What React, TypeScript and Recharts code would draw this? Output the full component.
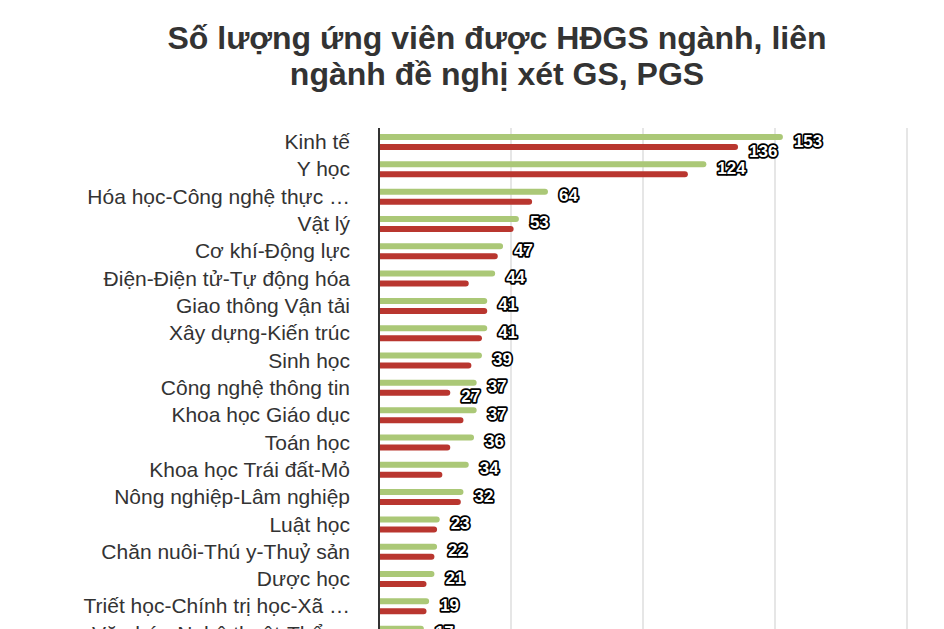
import React from "react";
import { BarChart, Bar, XAxis, YAxis, CartesianGrid } from "recharts";

const categories = [
  "Kinh tế",
  "Y học",
  "Hóa học-Công nghệ thực …",
  "Vật lý",
  "Cơ khí-Động lực",
  "Điện-Điện tử-Tự động hóa",
  "Giao thông Vận tải",
  "Xây dựng-Kiến trúc",
  "Sinh học",
  "Công nghệ thông tin",
  "Khoa học Giáo dục",
  "Toán học",
  "Khoa học Trái đất-Mỏ",
  "Nông nghiệp-Lâm nghiệp",
  "Luật học",
  "Chăn nuôi-Thú y-Thuỷ sản",
  "Dược học",
  "Triết học-Chính trị học-Xã …",
  "Văn hóa-Nghệ thuật-Thể …",
];

const greenValues = [153, 124, 64, 53, 47, 44, 41, 41, 39, 37, 37, 36, 34, 32, 23, 22, 21, 19, 17];
const redValues = [136, 117, 58, 51, 45, 34, 41, 39, 35, 27, 32, 27, 24, 31, 22, 21, 18, 18, 15];

// categories whose red-series value label is visible (others hidden by overlap)
const redLabelCategories = ["Kinh tế", "Công nghệ thông tin"];

const xTicks = [0, 50, 100, 150, 200];

const data = categories.map((name, i) => ({ name, a: greenValues[i], b: redValues[i] }));

const FONT = "'Liberation Sans', Arial, Helvetica, sans-serif";

const labelText = (x: number, y: number, value: any) => (
  <text
    x={x}
    y={y}
    dominantBaseline="central"
    textAnchor="start"
    fill="#ffffff"
    stroke="#000000"
    strokeWidth={3.5}
    strokeLinejoin="round"
    paintOrder="stroke"
    fontFamily={FONT}
    fontWeight="bold"
    fontSize={17}
  >
    {value}
  </text>
);

const greenLabel = (props: any) => {
  const { x, y, width, height, value } = props;
  return labelText(Number(x) + Number(width) + 11, Number(y) + Number(height) / 2 + 4, value);
};

const redLabel = (props: any) => {
  const { x, y, width, height, value, index } = props;
  if (!redLabelCategories.includes(categories[index])) return null;
  return labelText(Number(x) + Number(width) + 11, Number(y) + Number(height) / 2 + 4, value);
};

const EmptyTick = () => <g />;

export default function App() {
  return (
    <div style={{ position: "relative", width: 928, height: 680, fontFamily: FONT }}>
      <div
        style={{
          position: "absolute",
          left: 69,
          width: 840,
          top: 12,
          textAlign: "center",
          fontSize: 32,
          fontWeight: "bold",
          lineHeight: "36px",
          color: "#333333",
          whiteSpace: "nowrap",
        }}
      >
        Số lượng ứng viên được HĐGS ngành, liên
        <br />
        ngành đề nghị xét GS, PGS
      </div>
      <BarChart
        layout="vertical"
        width={928}
        height={680}
        data={data}
        margin={{ top: 120, right: 29, bottom: 11, left: 0 }}
        barSize={6}
        barGap={4}
      >
        <CartesianGrid horizontal={false} stroke="#e6e6e6" strokeWidth={2} />
        <XAxis
          type="number"
          domain={[0, 200]}
          ticks={xTicks}
          axisLine={false}
          tickLine={false}
          tick={EmptyTick}
        />
        <YAxis
          type="category"
          dataKey="name"
          width={371}
          interval={0}
          axisLine={{ stroke: "#333333", strokeWidth: 2 }}
          tickLine={false}
          tickSize={0}
          tickMargin={29}
          tick={{ fill: "#333333", fontSize: 21, fontFamily: FONT }}
        />
        <Bar dataKey="a" fill="#abc877" radius={[0, 3, 3, 0]} isAnimationActive={false} label={greenLabel} />
        <Bar dataKey="b" fill="#b9362f" radius={[0, 3, 3, 0]} isAnimationActive={false} label={redLabel} />
      </BarChart>
    </div>
  );
}
